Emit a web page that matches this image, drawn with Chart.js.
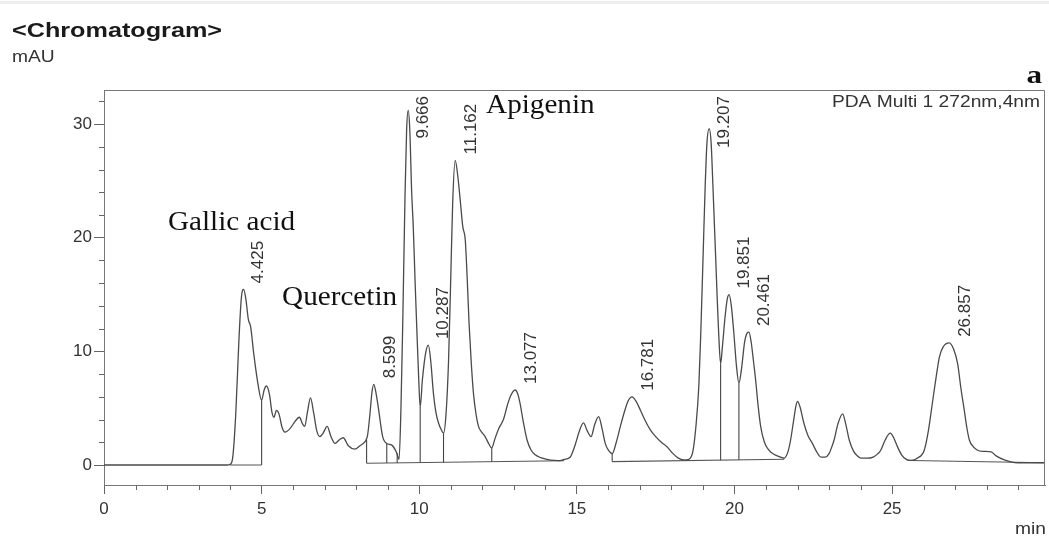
<!DOCTYPE html>
<html lang="en">
<head>
<meta charset="UTF-8">
<title>Chromatogram</title>
<script src="https://cdn.jsdelivr.net/npm/chart.js"></script>
<style>
  html, body { margin: 0; padding: 0; background: #fff; }
  #wrap { width: 1049px; height: 536px; position: relative; }
</style>
</head>
<body>
<div id="wrap"><canvas id="chromChart"></canvas></div>
<script>
// retention time (min) and detector signal (mAU)
const timeMin = [
  0, 3.9, 4.0, 4.08, 4.18, 4.28, 4.36, 4.43, 4.50, 4.58,
  4.65, 4.75, 4.88, 5.0, 5.08, 5.15, 5.25, 5.33, 5.39, 5.47,
  5.55, 5.65, 5.74, 5.9, 6.05, 6.2, 6.3, 6.37, 6.45, 6.55,
  6.65, 6.75, 6.85, 6.95, 7.08, 7.2, 7.33, 7.46, 7.59, 7.75,
  7.96, 8.12, 8.28, 8.36, 8.44, 8.50, 8.56, 8.63, 8.70, 8.84,
  8.97, 9.13, 9.28, 9.36, 9.42, 9.48, 9.55, 9.60, 9.65, 9.70,
  9.76, 9.81, 9.87, 9.92, 9.98, 10.03, 10.10, 10.20, 10.29, 10.37,
  10.45, 10.53, 10.61, 10.70, 10.77, 10.85, 10.93, 11.00, 11.06, 11.14,
  11.22, 11.30, 11.38, 11.46, 11.52, 11.58, 11.65, 11.72, 11.80, 11.88,
  11.98, 12.09, 12.20, 12.30, 12.40, 12.52, 12.67, 12.80, 12.90, 13.04,
  13.12, 13.20, 13.30, 13.42, 13.55, 13.68, 13.85, 14.05, 14.30, 14.47,
  14.60, 14.79, 14.95, 15.08, 15.21, 15.33, 15.45, 15.57, 15.69, 15.80,
  15.90, 16.00, 16.12, 16.25, 16.38, 16.50, 16.62, 16.75, 16.88, 17.02,
  17.17, 17.33, 17.50, 17.68, 17.86, 18.05, 18.22, 18.39, 18.55, 18.68,
  18.78, 18.87, 18.93, 19.00, 19.07, 19.13, 19.20, 19.26, 19.31, 19.35,
  19.40, 19.45, 19.50, 19.56, 19.62, 19.70, 19.77, 19.83, 19.90, 19.98,
  20.06, 20.14, 20.22, 20.32, 20.40, 20.46, 20.53, 20.60, 20.67, 20.75,
  20.83, 20.95, 21.09, 21.25, 21.46, 21.57, 21.70, 21.78, 21.88, 21.95,
  22.00, 22.08, 22.20, 22.33, 22.47, 22.60, 22.74, 22.88, 23.00, 23.10,
  23.16, 23.28, 23.43, 23.53, 23.64, 23.78, 23.90, 24.01, 24.20, 24.40,
  24.55, 24.64, 24.78, 24.94, 25.05, 25.17, 25.30, 25.45, 25.60, 25.80,
  26.02, 26.15, 26.29, 26.40, 26.50, 26.62, 26.81, 26.95, 27.08, 27.18,
  27.29, 27.37, 27.45, 27.58, 27.71, 27.90, 28.14, 28.30, 28.56, 28.80,
  28.99, 29.30, 29.85
];
const signalMAU = [
  0, 0, 0.05, 0.6, 4.5, 11.0, 14.8, 15.45, 14.6, 12.8,
  12.2, 9.8, 7.2, 5.7, 6.6, 6.95, 6.2, 4.6, 4.2, 4.8,
  4.5, 3.3, 2.9, 3.2, 3.8, 4.2, 3.6, 3.4, 4.6, 5.9,
  4.6, 3.0, 2.5, 2.8, 3.4, 2.5, 1.9, 2.2, 2.4, 1.7,
  1.4, 1.7, 2.05, 2.6, 4.6, 6.4, 7.1, 6.3, 5.1, 2.5,
  1.9, 1.75, 1.1, 0.5, 5.0, 13.0, 23.9, 29.5, 31.2, 29.5,
  24.0, 21.0, 16.0, 12.2, 7.8, 5.1, 7.5, 9.8, 10.55, 9.0,
  6.3, 4.6, 3.7, 3.1, 2.8, 4.5, 9.2, 16.5, 23.0, 26.8,
  25.5, 23.3, 21.0, 19.8, 16.5, 12.5, 9.0, 6.3, 4.5, 3.4,
  2.9, 2.5, 1.9, 1.5, 2.3, 3.2, 4.0, 5.3, 6.1, 6.6,
  6.3, 5.4, 3.8, 2.2, 1.3, 0.9, 0.65, 0.5, 0.4, 0.38,
  0.5, 0.7, 1.8, 3.0, 3.7, 3.0, 2.5, 3.6, 4.25, 3.2,
  1.9, 1.3, 1.0, 2.0, 3.4, 4.6, 5.6, 6.0, 5.6, 4.8,
  3.9, 3.1, 2.5, 2.0, 1.6, 1.0, 0.6, 0.45, 0.5, 1.2,
  3.5, 7.0, 11.5, 18.0, 24.5, 28.5, 29.6, 28.3, 25.0, 22.1,
  18.5, 14.8, 11.5, 8.9, 10.5, 13.0, 14.6, 15.0, 14.0, 11.6,
  8.8, 7.2, 8.4, 10.8, 11.6, 11.7, 10.8, 9.2, 7.5, 5.2,
  3.4, 2.0, 1.3, 0.95, 0.7, 0.6, 1.2, 2.2, 4.0, 5.2,
  5.6, 5.1, 3.7, 2.6, 1.9, 1.2, 0.7, 0.7, 1.0, 1.7,
  2.2, 3.6, 4.5, 3.6, 2.2, 1.2, 0.8, 0.6, 0.6, 0.7,
  1.0, 1.3, 2.2, 2.8, 2.4, 1.6, 0.9, 0.5, 0.4, 0.6,
  1.3, 3.0, 5.7, 7.8, 9.5, 10.4, 10.75, 10.2, 8.9, 6.8,
  4.8, 3.3, 2.2, 1.6, 1.3, 1.2, 1.15, 0.8, 0.45, 0.25,
  0.2, 0.2, 0.2
];

// integration baselines (start/end) and peak-cut drop lines
const baseStartT = [4.0, 8.33, 16.12, 25.6];
const baseStartY = [0, 0.15, 0.3, 0.4];
const baseEndT = [5.0, 14.6, 21.57, 29.85];
const baseEndY = [0, 0.38, 0.5, 0.2];

const dropTimes = [5.0, 8.33, 8.97, 9.30, 10.03, 10.77, 12.30, 16.12, 19.56, 20.14, 21.57];
const dropTops = [5.7, 2.2, 1.9, 1.05, 5.1, 2.8, 1.5, 1.0, 8.9, 7.2, 0.6];
const dropBottoms = [0, 0.15, 0.17, 0.18, 0.2, 0.23, 0.28, 0.3, 0.42, 0.45, 0.5];

// labelled peaks: retention time text and apex height
const peakLabels = ['4.425', '8.599', '9.666', '10.287', '11.162', '13.077', '16.781', '19.207', '19.851', '20.461', '26.857'];
const peakHeights = [15.45, 7.1, 31.2, 10.55, 26.8, 6.6, 6.0, 29.6, 15.0, 11.7, 10.75];

// compound names placed at (time, signal)
const compoundNames = ['Gallic acid', 'Quercetin', 'Apigenin'];
const compoundT = [2.03, 5.65, 12.12];
const compoundY = [20.7, 14.1, 31.0];

const xMajorTicks = [0, 5, 10, 15, 20, 25];
const xMinorTicks = [1, 2, 3, 4, 6, 7, 8, 9, 11, 12, 13, 14, 16, 17, 18, 19, 21, 22, 23, 24, 26, 27, 28, 29];
const yMajorTicks = [0, 10, 20, 30];
const yMinorTicks = [2, 4, 6, 8, 12, 14, 16, 18, 22, 24, 26, 28, 32];

const traceData = timeMin.map((t, i) => ({ x: t, y: signalMAU[i] }));
const baselineData = [];
baseStartT.forEach((t, i) => {
  baselineData.push({ x: t, y: baseStartY[i] }, { x: baseEndT[i], y: baseEndY[i] }, { x: baseEndT[i], y: null });
});
const dropData = [];
dropTimes.forEach((t, i) => {
  dropData.push({ x: t, y: dropBottoms[i] }, { x: t, y: dropTops[i] }, { x: t, y: null });
});

const SANS = '"Liberation Sans", Arial, sans-serif';
const SERIF = '"Liberation Serif", "Times New Roman", serif';

// the original screenshot is a little wider than tall, so text is stretched sideways
function wideText(ctx, text, px, py, font, align, sx) {
  ctx.save();
  ctx.translate(px, py);
  ctx.scale(sx, 1);
  ctx.font = font;
  ctx.textAlign = align;
  ctx.textBaseline = 'alphabetic';
  ctx.fillText(text, 0, 0);
  ctx.restore();
}

const chromDecor = {
  id: 'chromDecor',
  afterDraw(chart) {
    const { ctx, chartArea: a, scales: { x, y } } = chart;
    ctx.save();

    // faint grey edge at the very top of the screenshot
    ctx.fillStyle = '#eeeeee';
    ctx.fillRect(0, 1, chart.width, 3);

    // top and right side of the frame
    ctx.strokeStyle = '#777';
    ctx.lineWidth = 1;
    ctx.beginPath();
    ctx.moveTo(a.left, a.top + 0.5);
    ctx.lineTo(a.right - 0.5, a.top + 0.5);
    ctx.lineTo(a.right - 0.5, a.bottom);
    ctx.stroke();

    // minor ticks
    ctx.strokeStyle = '#666';
    ctx.beginPath();
    yMinorTicks.forEach(v => {
      const py = Math.round(y.getPixelForValue(v)) + 0.5;
      ctx.moveTo(a.left - 5, py);
      ctx.lineTo(a.left, py);
    });
    xMinorTicks.forEach(v => {
      const px = Math.round(x.getPixelForValue(v)) + 0.5;
      ctx.moveTo(px, a.bottom);
      ctx.lineTo(px, a.bottom + 5);
    });
    ctx.stroke();

    // header texts
    ctx.fillStyle = '#1a1a1a';
    wideText(ctx, '<Chromatogram>', 12, 37, 'bold 21px ' + SANS, 'left', 1.2);
    ctx.fillStyle = '#333';
    wideText(ctx, 'mAU', 12, 62, '16px ' + SANS, 'left', 1.2);
    wideText(ctx, 'min', 1046, 534, '16px ' + SANS, 'right', 1.2);
    wideText(ctx, 'PDA Multi 1 272nm,4nm', a.right - 5, a.top + 17, '16px ' + SANS, 'right', 1.2);
    ctx.fillStyle = '#111';
    wideText(ctx, 'a', a.right - 3, a.top - 7, 'bold 26px ' + SERIF, 'right', 1.2);

    // retention time labels, rotated
    ctx.fillStyle = '#333';
    ctx.font = '17px ' + SANS;
    peakLabels.forEach((lab, i) => {
      const px = x.getPixelForValue(parseFloat(lab));
      const py = y.getPixelForValue(peakHeights[i]);
      const len = ctx.measureText(lab).width;
      const start = Math.max(py - 6, a.top + 6 + len);
      ctx.save();
      ctx.translate(px + 15, start);
      ctx.rotate(-Math.PI / 2);
      ctx.textAlign = 'left';
      ctx.textBaseline = 'middle';
      ctx.fillText(lab, 0, 0);
      ctx.restore();
    });

    // compound names
    ctx.fillStyle = '#111';
    compoundNames.forEach((name, i) => {
      wideText(ctx, name, x.getPixelForValue(compoundT[i]), y.getPixelForValue(compoundY[i]), '27px ' + SERIF, 'left', 1.08);
    });

    ctx.restore();
  }
};

const ctx = document.getElementById('chromChart').getContext('2d');
new Chart(ctx, {
  type: 'line',
  data: {
    datasets: [
      {
        label: 'PDA 272 nm',
        data: traceData,
        borderColor: '#4a4a4a',
        borderWidth: 1.3,
        pointRadius: 0,
        cubicInterpolationMode: 'monotone',
        fill: false
      },
      {
        label: 'baseline',
        data: baselineData,
        borderColor: '#555',
        borderWidth: 1.1,
        pointRadius: 0,
        tension: 0,
        spanGaps: false
      },
      {
        label: 'drop lines',
        data: dropData,
        borderColor: '#444',
        borderWidth: 1.1,
        pointRadius: 0,
        tension: 0,
        spanGaps: false
      }
    ]
  },
  options: {
    responsive: true,
    maintainAspectRatio: false,
    animation: false,
    layout: { padding: { left: 0, right: 4, top: 90, bottom: 0 } },
    plugins: {
      legend: { display: false },
      tooltip: { enabled: false },
      title: { display: false }
    },
    scales: {
      x: {
        type: 'linear',
        min: 0,
        max: 29.85,
        afterFit: s => { s.height = 51; },
        afterBuildTicks: s => { s.ticks = xMajorTicks.map(v => ({ value: v })); },
        grid: { display: true, drawOnChartArea: false, drawTicks: true, tickLength: 9, tickColor: '#666' },
        border: { display: true, color: '#777', width: 1 },
        ticks: { color: '#333', font: { family: SANS, size: 17 }, padding: 5, maxRotation: 0, autoSkip: false }
      },
      y: {
        type: 'linear',
        min: -1.76,
        max: 33,
        afterFit: s => { s.width = 104; },
        afterBuildTicks: s => { s.ticks = yMajorTicks.map(v => ({ value: v })); },
        grid: { display: true, drawOnChartArea: false, drawTicks: true, tickLength: 10, tickColor: '#666' },
        border: { display: true, color: '#777', width: 1 },
        ticks: { color: '#333', font: { family: SANS, size: 17 }, padding: 2, autoSkip: false }
      }
    }
  },
  plugins: [chromDecor]
});
</script>
</body>
</html>
